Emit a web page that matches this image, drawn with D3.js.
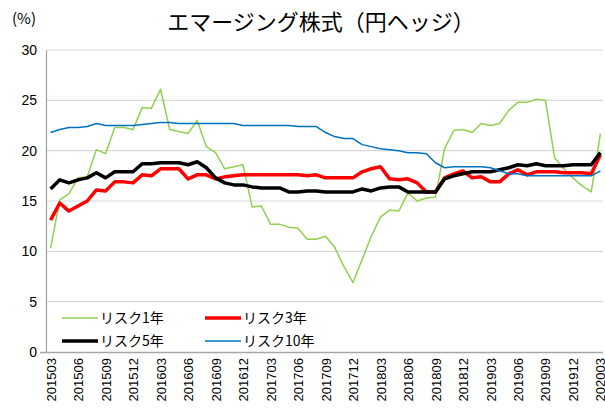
<!DOCTYPE html>
<html>
<head>
<meta charset="utf-8">
<script src="https://cdn.jsdelivr.net/npm/d3@7"></script>
<style>
  body { margin: 0; background: #fff; }
  text { font-family: "Noto Sans CJK JP", "Noto Sans", sans-serif; }
</style>
</head>
<body>
<div id="chart"></div>
<script>
// months 201503 .. 202003
var months = [
  "201503","201504","201505","201506","201507","201508","201509","201510","201511","201512",
  "201601","201602","201603","201604","201605","201606","201607","201608","201609","201610","201611","201612",
  "201701","201702","201703","201704","201705","201706","201707","201708","201709","201710","201711","201712",
  "201801","201802","201803","201804","201805","201806","201807","201808","201809","201810","201811","201812",
  "201901","201902","201903","201904","201905","201906","201907","201908","201909","201910","201911","201912",
  "202001","202002","202003"
];
var tickLabels = ["201503","201506","201509","201512","201603","201606","201609","201612",
  "201703","201706","201709","201712","201803","201806","201809","201812",
  "201903","201906","201909","201912","202003"];

var risk1 = [10.3,15.1,15.7,17.3,17.4,20.1,19.7,22.3,22.3,22.1,24.3,24.2,26.1,
  22.1,21.9,21.7,23.0,20.4,19.8,18.2,18.4,18.6,14.4,14.5,12.7,12.7,
  12.4,12.3,11.2,11.2,11.5,10.4,8.5,6.9,9.2,11.5,13.4,14.1,14.0,15.8,
  15.0,15.3,15.4,20.2,22.0,22.1,21.8,22.7,22.5,22.7,24.0,24.8,24.8,25.1,25.0,
  19.3,18.2,17.3,16.5,15.9,21.7];
var risk3 = [13.1,14.8,14.0,14.5,15.0,16.1,16.0,16.9,16.9,16.8,17.6,17.5,18.2,
  18.2,18.2,17.2,17.6,17.6,17.2,17.4,17.5,17.6,17.6,17.6,17.6,17.6,
  17.6,17.6,17.5,17.6,17.3,17.3,17.3,17.3,17.9,18.2,18.4,17.2,17.1,17.2,
  16.8,15.9,15.9,17.3,17.7,18.0,17.3,17.4,16.9,16.9,17.7,18.1,17.6,17.9,17.9,
  17.9,17.8,17.8,17.8,17.7,19.6];
var risk5 = [16.2,17.1,16.8,17.1,17.3,17.8,17.3,17.9,17.9,17.9,18.7,18.7,18.8,
  18.8,18.8,18.6,18.9,18.3,17.3,16.8,16.6,16.6,16.4,16.3,16.3,16.3,
  15.9,15.9,16.0,16.0,15.9,15.9,15.9,15.9,16.2,16.0,16.3,16.4,16.4,15.9,
  15.9,15.9,15.9,17.2,17.5,17.7,17.9,17.9,17.9,18.1,18.3,18.6,18.5,18.7,18.5,
  18.5,18.5,18.6,18.6,18.6,19.8];
var risk10 = [21.8,22.1,22.3,22.3,22.4,22.7,22.5,22.5,22.5,22.5,22.6,22.7,22.8,
  22.8,22.7,22.7,22.7,22.7,22.7,22.7,22.7,22.5,22.5,22.5,22.5,22.5,
  22.5,22.4,22.4,22.4,21.8,21.4,21.2,21.2,20.6,20.4,20.2,20.1,20.0,19.8,
  19.8,19.7,18.8,18.3,18.4,18.4,18.4,18.4,18.3,18.0,17.7,17.7,17.5,17.5,17.5,
  17.5,17.5,17.5,17.5,17.5,18.0];

var seriesNames = ["リスク1年", "リスク3年", "リスク5年", "リスク10年"];
var colors = ["#92D050", "#FF0000", "#000000", "#0070C0"];
var widths = [1.5, 3.5, 3.5, 1.5];
var yTicks = [0, 5, 10, 15, 20, 25, 30];

var W = 605, H = 408;
var svg = d3.select("#chart").append("svg").attr("width", W).attr("height", H);

var xScale = d3.scalePoint().domain(months).range([46, 605]).padding(0.5);
var yScale = d3.scaleLinear().domain([0, 30]).range([352, 50]);

// gridlines
svg.selectAll(".grid").data(yTicks.filter(d => d > 0)).enter()
  .append("line")
  .attr("x1", 46).attr("x2", 603)
  .attr("y1", d => yScale(d)).attr("y2", d => yScale(d))
  .style("stroke", "#d9d9d9").style("stroke-width", 1.2);

// y axis
var yAxis = svg.append("g").attr("transform", "translate(46,0)")
  .call(d3.axisLeft(yScale).tickValues(yTicks).tickSize(0).tickPadding(9));
yAxis.select(".domain").style("stroke", "#a6a6a6").style("stroke-width", 1.3);
yAxis.selectAll("text").style("font-size", "14px").style("fill", "#000")
  .style("font-family", "'Liberation Sans', Arial, sans-serif");

// x axis
var xAxis = svg.append("g").attr("transform", "translate(0,352)")
  .call(d3.axisBottom(xScale).tickValues(tickLabels).tickSize(0));
xAxis.select(".domain").attr("d", "M40,0.5H603").style("stroke", "#a6a6a6").style("stroke-width", 1.5);
xAxis.selectAll("text")
  .attr("transform", "rotate(-90)")
  .attr("x", -6).attr("y", 0).attr("dy", "0.35em")
  .style("text-anchor", "end")
  .style("font-size", "13px").style("fill", "#000")
  .style("font-family", "'Liberation Sans', Arial, sans-serif");

// lines
var all = [risk1, risk3, risk5, risk10];
var line = d3.line().x((d, i) => xScale(months[i])).y(d => yScale(d));
all.forEach(function (vals, i) {
  svg.append("path")
    .datum(vals)
    .attr("d", line)
    .style("fill", "none")
    .style("stroke", colors[i])
    .style("stroke-width", widths[i])
    .style("stroke-linejoin", "round");
});

// legend
var legPos = [[62, 318], [205, 318], [62, 341], [205, 341]];
seriesNames.forEach(function (name, i) {
  svg.append("line")
    .attr("x1", legPos[i][0]).attr("x2", legPos[i][0] + 36)
    .attr("y1", legPos[i][1]).attr("y2", legPos[i][1])
    .style("stroke", colors[i]).style("stroke-width", widths[i]);
  svg.append("text")
    .attr("x", legPos[i][0] + 38).attr("y", legPos[i][1]).attr("dy", "0.36em")
    .text(name).style("font-size", "14px").style("fill", "#000");
});

// title and unit
svg.append("text").attr("x", 321).attr("y", 30).attr("text-anchor", "middle")
  .text("エマージング株式（円ヘッジ）").style("font-size", "22px").style("fill", "#000");
svg.append("text").attr("x", 12).attr("y", 24)
  .text("(%)").style("font-size", "15px").style("fill", "#000");
</script>
</body>
</html>
